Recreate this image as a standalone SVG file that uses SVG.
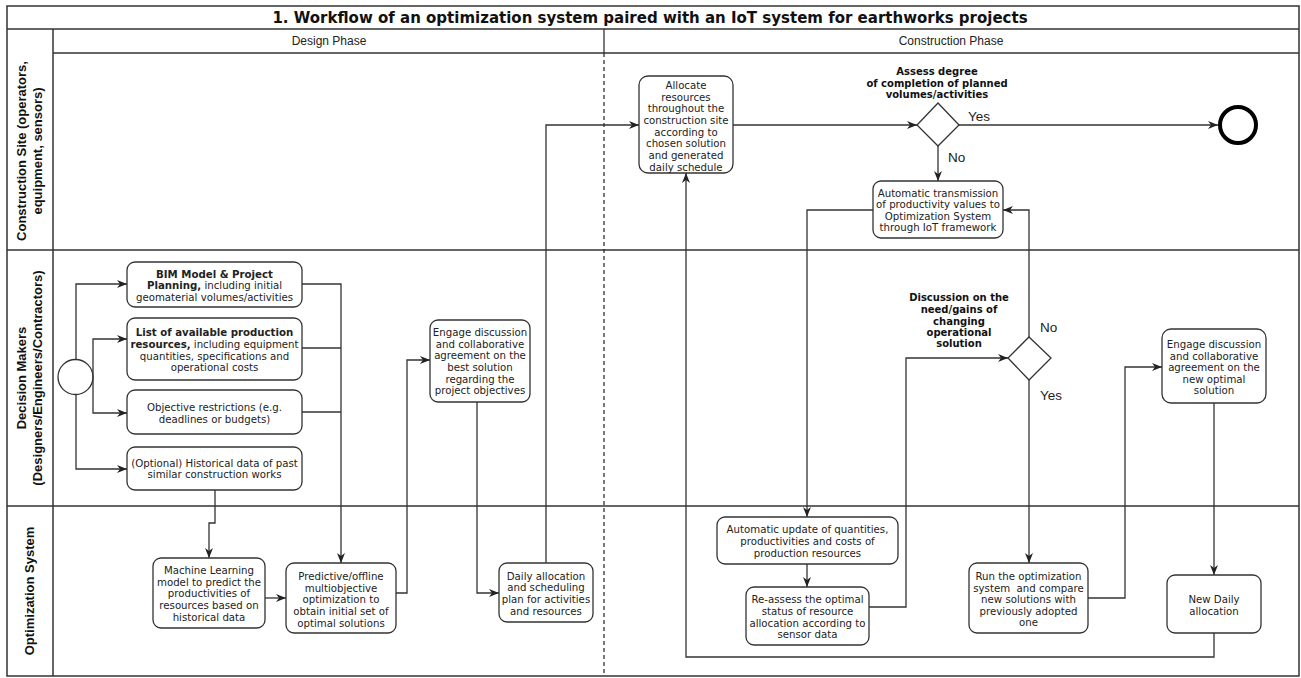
<svg xmlns="http://www.w3.org/2000/svg" width="1301" height="678" viewBox="0 0 1301 678">
<defs>
<marker id="arr" markerUnits="userSpaceOnUse" markerWidth="10" markerHeight="8" refX="10" refY="4" orient="auto">
<path d="M0,0 L10,4 L0,8 L3,4 z" fill="#222"/>
</marker>
<style>
.frame{fill:none;stroke:#333;stroke-width:1.5}
.ln{fill:none;stroke:#333;stroke-width:1.3}
.dash{fill:none;stroke:#222;stroke-width:1.2;stroke-dasharray:4 3}
.box{fill:#fff;stroke:#333;stroke-width:1.3}
.c{fill:none;stroke:#333;stroke-width:1.3}
.t{font-family:"DejaVu Sans",Verdana,sans-serif;font-size:10.2px;fill:#222;text-anchor:middle}
.tb{font-family:"DejaVu Sans",Verdana,sans-serif;font-size:10px;font-weight:bold;fill:#111;text-anchor:middle}
.b{font-weight:bold}
.title{font-family:"DejaVu Sans",Verdana,sans-serif;font-size:15px;font-weight:bold;fill:#111;text-anchor:middle}
.lane{font-family:"Liberation Sans",Arial,sans-serif;font-size:13px;font-weight:bold;fill:#111;text-anchor:middle}
.phase{font-family:"Liberation Sans",Arial,sans-serif;font-size:12px;fill:#222;text-anchor:middle}
.yn{font-family:"Liberation Sans",Arial,sans-serif;font-size:13.5px;fill:#222}
</style>
</defs>
<rect width="1301" height="678" fill="#fff"/>
<g id="pool">
<rect class="frame" x="7" y="6" width="1292" height="670"/>
<line class="frame" x1="7" y1="29" x2="1299" y2="29"/>
<line class="frame" x1="53" y1="29" x2="53" y2="676"/>
<line class="frame" x1="53" y1="53" x2="1299" y2="53"/>
<line class="frame" x1="7" y1="250" x2="1299" y2="250"/>
<line class="frame" x1="7" y1="506" x2="1299" y2="506"/>
<line class="ln" x1="604" y1="29" x2="604" y2="53"/>
<line class="dash" x1="604" y1="53" x2="604" y2="676"/>
<text class="title" x="650" y="23">1. Workflow of an optimization system paired with an IoT system for earthworks projects</text>
<text class="phase" x="329" y="45">Design Phase</text>
<text class="phase" x="951" y="45">Construction Phase</text>
<text class="lane" transform="translate(29,151) rotate(-90)"><tspan x="0" y="-3">Construction Site (operators,</tspan><tspan x="0" y="13">equipment, sensors)</tspan></text>
<text class="lane" transform="translate(29,378) rotate(-90)"><tspan x="0" y="-3">Decision Makers</tspan><tspan x="0" y="13">(Designers/Engineers/Contractors)</tspan></text>
<text class="lane" transform="translate(29,591) rotate(-90)"><tspan x="0" y="5">Optimization System</tspan></text>
</g>
<g id="connectors">
<path class="ln" marker-end="url(#arr)" d="M76,360 V284 H127"/>
<path class="ln" marker-end="url(#arr)" d="M76,394 V469 H127"/>
<path class="ln" marker-end="url(#arr)" d="M93,377 V339 H127"/>
<path class="ln" marker-end="url(#arr)" d="M93,377 V413 H127"/>
<path class="ln" marker-end="url(#arr)" d="M302,284 H341 V563"/>
<path class="ln" d="M302,348 H341"/>
<path class="ln" d="M302,412 H341"/>
<path class="ln" marker-end="url(#arr)" d="M215,490 V523 H209 V558"/>
<path class="ln" marker-end="url(#arr)" d="M265,598 H286"/>
<path class="ln" marker-end="url(#arr)" d="M396,593 H407 V360 H430"/>
<path class="ln" marker-end="url(#arr)" d="M477,402 V593 H499"/>
<path class="ln" marker-end="url(#arr)" d="M546,563 V125 H639"/>
<path class="ln" marker-end="url(#arr)" d="M733,125 H917"/>
<path class="ln" marker-end="url(#arr)" d="M959,125 H1218"/>
<path class="ln" marker-end="url(#arr)" d="M938,146 V181"/>
<path class="ln" marker-end="url(#arr)" d="M873,210 H807 V517"/>
<path class="ln" marker-end="url(#arr)" d="M807,564 V587"/>
<path class="ln" marker-end="url(#arr)" d="M869,607 H906 V358 H1008"/>
<path class="ln" marker-end="url(#arr)" d="M1029,337 V210 H1003"/>
<path class="ln" marker-end="url(#arr)" d="M1029,380 V563"/>
<path class="ln" marker-end="url(#arr)" d="M1088,598 H1125 V367 H1162"/>
<path class="ln" marker-end="url(#arr)" d="M1214,403 V575"/>
<path class="ln" marker-end="url(#arr)" d="M1214,633 V657 H686 V173"/>
<text class="yn" x="968" y="121">Yes</text>
<text class="yn" x="948" y="162">No</text>
<text class="yn" x="1040" y="332">No</text>
<text class="yn" x="1040" y="400">Yes</text>
</g>
<g id="start"><circle class="c" cx="75.5" cy="377" r="17.5" fill="#fff"/></g>
<g id="end"><circle cx="1238" cy="125" r="18" fill="#fff" stroke="#000" stroke-width="4"/></g>
<g id="bim"><rect class="box" x="127" y="262" width="175" height="45" rx="8"/>
<text class="t"><tspan x="214.5" y="277.5" class="b">BIM Model &amp; Project</tspan><tspan x="214.5" y="289"><tspan class="b">Planning,</tspan> including initial</tspan><tspan x="214.5" y="300.5">geomaterial volumes/activities</tspan></text></g>
<g id="list"><rect class="box" x="127" y="318" width="175" height="62" rx="8"/>
<text class="t"><tspan x="214.5" y="335.5" class="b">List of available production</tspan><tspan x="214.5" y="347.5"><tspan class="b">resources,</tspan> including equipment</tspan><tspan x="214.5" y="359.5">quantities, specifications and</tspan><tspan x="214.5" y="371">operational costs</tspan></text></g>
<g id="objective"><rect class="box" x="127" y="390" width="175" height="44" rx="8"/>
<text class="t"><tspan x="214.5" y="410.5">Objective restrictions (e.g.</tspan><tspan x="214.5" y="422.5">deadlines or budgets)</tspan></text></g>
<g id="optional"><rect class="box" x="127" y="447" width="175" height="43" rx="8"/>
<text class="t"><tspan x="214.5" y="466.5">(Optional) Historical data of past</tspan><tspan x="214.5" y="478">similar construction works</tspan></text></g>
<g id="ml"><rect class="box" x="153" y="558" width="112" height="70" rx="8"/>
<text class="t"><tspan x="209" y="573.5">Machine Learning</tspan><tspan x="209" y="585.5">model to predict the</tspan><tspan x="209" y="596.5">productivities of</tspan><tspan x="209" y="608.5">resources based on</tspan><tspan x="209" y="620.5">historical data</tspan></text></g>
<g id="predictive"><rect class="box" x="286" y="563" width="110" height="70" rx="8"/>
<text class="t"><tspan x="341" y="579.5">Predictive/offline</tspan><tspan x="341" y="591.5">multiobjective</tspan><tspan x="341" y="602.5">optimization to</tspan><tspan x="341" y="614.5">obtain initial set of</tspan><tspan x="341" y="626.5">optimal solutions</tspan></text></g>
<g id="engage1"><rect class="box" x="430" y="320" width="100" height="82" rx="8"/>
<text class="t"><tspan x="480" y="335.5">Engage discussion</tspan><tspan x="480" y="347.5">and collaborative</tspan><tspan x="480" y="358.5">agreement on the</tspan><tspan x="480" y="370.5">best solution</tspan><tspan x="480" y="382.5">regarding the</tspan><tspan x="480" y="393.5">project objectives</tspan></text></g>
<g id="daily"><rect class="box" x="499" y="563" width="94" height="59" rx="8"/>
<text class="t"><tspan x="546" y="579.5">Daily allocation</tspan><tspan x="546" y="590.5">and scheduling</tspan><tspan x="546" y="602.5">plan for activities</tspan><tspan x="546" y="614.5">and resources</tspan></text></g>
<g id="allocate"><rect class="box" x="639" y="76" width="94" height="97" rx="9"/>
<text class="t"><tspan x="686" y="88.5">Allocate</tspan><tspan x="686" y="100.5">resources</tspan><tspan x="686" y="111.5">throughout the</tspan><tspan x="686" y="123.5">construction site</tspan><tspan x="686" y="135.5">according to</tspan><tspan x="686" y="146.5">chosen solution</tspan><tspan x="686" y="158.5">and generated</tspan><tspan x="686" y="170.5">daily schedule</tspan></text></g>
<g id="assess"><polygon class="box" points="938,103 959,125 938,146 917,125"/>
<text class="tb"><tspan x="937" y="74.5">Assess degree</tspan><tspan x="937" y="86.5">of completion of planned</tspan><tspan x="937" y="97.5">volumes/activities</tspan></text></g>
<g id="transmission"><rect class="box" x="873" y="181" width="130" height="57" rx="8"/>
<text class="t"><tspan x="938" y="196.5">Automatic transmission</tspan><tspan x="938" y="207.5">of productivity values to</tspan><tspan x="938" y="219.5">Optimization System</tspan><tspan x="938" y="230.5">through IoT framework</tspan></text></g>
<g id="discussion"><polygon class="box" points="1029,337 1051,358 1029,380 1008,358"/>
<text class="tb"><tspan x="959" y="301">Discussion on the</tspan><tspan x="959" y="313">need/gains of</tspan><tspan x="959" y="324.5">changing</tspan><tspan x="959" y="335.5">operational</tspan><tspan x="959" y="347">solution</tspan></text></g>
<g id="update"><rect class="box" x="717" y="517" width="181" height="47" rx="8"/>
<text class="t"><tspan x="807.5" y="532.5">Automatic update of quantities,</tspan><tspan x="807.5" y="544.5">productivities and costs of</tspan><tspan x="807.5" y="556.5">production resources</tspan></text></g>
<g id="reassess"><rect class="box" x="746" y="587" width="123" height="58" rx="8"/>
<text class="t"><tspan x="807.5" y="602.5">Re-assess the optimal</tspan><tspan x="807.5" y="614.5">status of resource</tspan><tspan x="807.5" y="626.5">allocation according to</tspan><tspan x="807.5" y="637.5">sensor data</tspan></text></g>
<g id="run"><rect class="box" x="969" y="563" width="119" height="70" rx="8"/>
<text class="t"><tspan x="1028.5" y="579.5">Run the optimization</tspan><tspan x="1028.5" y="591.5" xml:space="preserve">system  and compare</tspan><tspan x="1028.5" y="602.5">new solutions with</tspan><tspan x="1028.5" y="614.5">previously adopted</tspan><tspan x="1028.5" y="625.5">one</tspan></text></g>
<g id="engage2"><rect class="box" x="1162" y="329" width="104" height="74" rx="9"/>
<text class="t"><tspan x="1214" y="347.5">Engage discussion</tspan><tspan x="1214" y="359.5">and collaborative</tspan><tspan x="1214" y="370.5">agreement on the</tspan><tspan x="1214" y="382.5">new optimal</tspan><tspan x="1214" y="393.5">solution</tspan></text></g>
<g id="newdaily"><rect class="box" x="1167" y="575" width="94" height="58" rx="8"/>
<text class="t"><tspan x="1214" y="602.5">New Daily</tspan><tspan x="1214" y="614.5">allocation</tspan></text></g>
</svg>
